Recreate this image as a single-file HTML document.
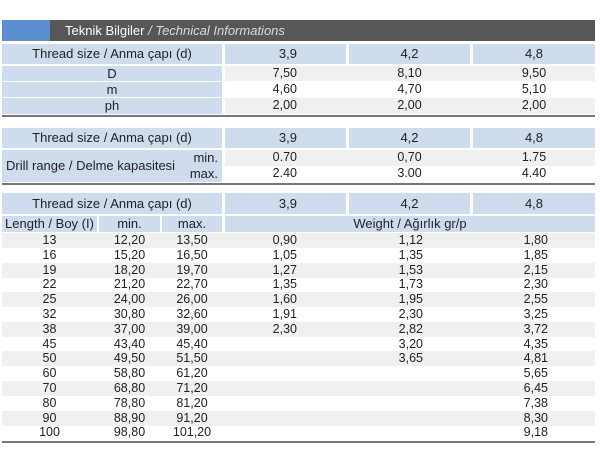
<!DOCTYPE html>
<html><head><meta charset="utf-8"><style>
*{margin:0;padding:0;box-sizing:border-box}
body{width:600px;height:450px;background:#fff;position:relative;font-family:"Liberation Sans",sans-serif;font-size:12.5px;color:#222;overflow:hidden}
div{position:absolute}
.b{background:#cfdced}
.g{background:#f0f0f0}
.c{text-align:center}
.r{text-align:right}
.h{font-size:13px}
.ln{height:2px;background:#777;left:2px;width:593px}
.row{left:0;width:600px;height:15px;line-height:15px}
.row div{top:0;height:15px}
</style></head><body>
<div style="left:2px;top:20px;width:48px;height:21px;background:#5b8fd0"></div>
<div style="left:50px;top:20px;width:545px;height:21px;background:#575757;color:#fff;font-size:13px;line-height:21px;padding-left:15px">Teknik Bilgiler <span style="color:#ddd;font-style:italic">/ Technical Informations</span></div>

<!-- table 1 -->
<div class="b c h" style="left:2px;top:44px;width:220px;height:20px;line-height:20px">Thread size / Anma çapı (d)</div>
<div class="b r h" style="left:225px;top:44px;width:121px;height:20px;line-height:20px;padding-right:49px">3,9</div>
<div class="b c h" style="left:349px;top:44px;width:121px;height:20px;line-height:20px">4,2</div>
<div class="b c h" style="left:473px;top:44px;width:122px;height:20px;line-height:20px">4,8</div>

<div class="b c h" style="left:2px;top:66px;width:220px;height:15px;line-height:15px">D</div>
<div class="g" style="left:225px;top:66px;width:370px;height:15px"></div>
<div class="b c h" style="left:2px;top:82px;width:220px;height:15px;line-height:15px">m</div>
<div class="b c h" style="left:2px;top:98px;width:220px;height:16px;line-height:16px">ph</div>
<div class="g" style="left:225px;top:98px;width:370px;height:16px"></div>
<div class="row" style="top:66px"><div class="r" style="left:225px;width:72px">7,50</div><div class="c" style="left:349px;width:121px">8,10</div><div class="c" style="left:473px;width:122px">9,50</div></div>
<div class="row" style="top:82px"><div class="r" style="left:225px;width:72px">4,60</div><div class="c" style="left:349px;width:121px">4,70</div><div class="c" style="left:473px;width:122px">5,10</div></div>
<div class="row" style="top:98px"><div class="r" style="left:225px;width:72px">2,00</div><div class="c" style="left:349px;width:121px">2,00</div><div class="c" style="left:473px;width:122px">2,00</div></div>
<div class="ln" style="top:115px"></div>

<!-- table 2 -->
<div class="b c h" style="left:2px;top:128px;width:220px;height:20px;line-height:20px">Thread size / Anma çapı (d)</div>
<div class="b r h" style="left:225px;top:128px;width:121px;height:20px;line-height:20px;padding-right:49px">3,9</div>
<div class="b c h" style="left:349px;top:128px;width:121px;height:20px;line-height:20px">4,2</div>
<div class="b c h" style="left:473px;top:128px;width:122px;height:20px;line-height:20px">4,8</div>
<div class="b" style="left:2px;top:150px;width:220px;height:32px"></div>
<div class="h" style="left:6px;top:150px;height:32px;line-height:32px">Drill range / Delme kapasitesi</div>
<div class="r h" style="left:180px;top:150px;width:38px;line-height:16px">min.</div>
<div class="r h" style="left:180px;top:166px;width:38px;line-height:16px">max.</div>
<div class="g" style="left:225px;top:150px;width:370px;height:16px"></div>
<div class="row" style="top:150px"><div class="r" style="left:225px;width:72px">0.70</div><div class="c" style="left:349px;width:121px">0,70</div><div class="c" style="left:473px;width:122px">1.75</div></div>
<div class="row" style="top:166px"><div class="r" style="left:225px;width:72px">2.40</div><div class="c" style="left:349px;width:121px">3.00</div><div class="c" style="left:473px;width:122px">4.40</div></div>
<div class="ln" style="top:183px"></div>

<!-- table 3 -->
<div class="b c h" style="left:2px;top:193px;width:220px;height:21px;line-height:21px">Thread size / Anma çapı (d)</div>
<div class="b r h" style="left:225px;top:193px;width:121px;height:21px;line-height:21px;padding-right:49px">3,9</div>
<div class="b c h" style="left:349px;top:193px;width:121px;height:21px;line-height:21px">4,2</div>
<div class="b c h" style="left:473px;top:193px;width:122px;height:21px;line-height:21px">4,8</div>
<div class="b c h" style="left:2px;top:216px;width:95px;height:16px;line-height:16px">Length / Boy (I)</div>
<div class="b c h" style="left:99px;top:216px;width:61px;height:16px;line-height:16px">min.</div>
<div class="b c h" style="left:162px;top:216px;width:60px;height:16px;line-height:16px">max.</div>
<div class="b c h" style="left:225px;top:216px;width:370px;height:16px;line-height:16px">Weight / Ağırlık gr/p</div>

<div class="g" style="left:2px;top:233px;width:593px;height:15px"></div>
<div class="g" style="left:2px;top:262.6px;width:593px;height:15px"></div>
<div class="g" style="left:2px;top:292.2px;width:593px;height:15px"></div>
<div class="g" style="left:2px;top:321.8px;width:593px;height:15px"></div>
<div class="g" style="left:2px;top:351.4px;width:593px;height:15px"></div>
<div class="g" style="left:2px;top:381px;width:593px;height:15px"></div>
<div class="g" style="left:2px;top:410.6px;width:593px;height:15px"></div>

<div class="row" style="top:233px"><div class="c" style="left:2px;width:95px">13</div><div class="c" style="left:99px;width:61px">12,20</div><div class="c" style="left:162px;width:60px">13,50</div><div class="r" style="left:225px;width:72px">0,90</div><div class="r" style="left:349px;width:74px">1,12</div><div class="r" style="left:473px;width:75px">1,80</div></div>
<div class="row" style="top:247.8px"><div class="c" style="left:2px;width:95px">16</div><div class="c" style="left:99px;width:61px">15,20</div><div class="c" style="left:162px;width:60px">16,50</div><div class="r" style="left:225px;width:72px">1,05</div><div class="r" style="left:349px;width:74px">1,35</div><div class="r" style="left:473px;width:75px">1,85</div></div>
<div class="row" style="top:262.6px"><div class="c" style="left:2px;width:95px">19</div><div class="c" style="left:99px;width:61px">18,20</div><div class="c" style="left:162px;width:60px">19,70</div><div class="r" style="left:225px;width:72px">1,27</div><div class="r" style="left:349px;width:74px">1,53</div><div class="r" style="left:473px;width:75px">2,15</div></div>
<div class="row" style="top:277.4px"><div class="c" style="left:2px;width:95px">22</div><div class="c" style="left:99px;width:61px">21,20</div><div class="c" style="left:162px;width:60px">22,70</div><div class="r" style="left:225px;width:72px">1,35</div><div class="r" style="left:349px;width:74px">1,73</div><div class="r" style="left:473px;width:75px">2,30</div></div>
<div class="row" style="top:292.2px"><div class="c" style="left:2px;width:95px">25</div><div class="c" style="left:99px;width:61px">24,00</div><div class="c" style="left:162px;width:60px">26,00</div><div class="r" style="left:225px;width:72px">1,60</div><div class="r" style="left:349px;width:74px">1,95</div><div class="r" style="left:473px;width:75px">2,55</div></div>
<div class="row" style="top:307px"><div class="c" style="left:2px;width:95px">32</div><div class="c" style="left:99px;width:61px">30,80</div><div class="c" style="left:162px;width:60px">32,60</div><div class="r" style="left:225px;width:72px">1,91</div><div class="r" style="left:349px;width:74px">2,30</div><div class="r" style="left:473px;width:75px">3,25</div></div>
<div class="row" style="top:321.8px"><div class="c" style="left:2px;width:95px">38</div><div class="c" style="left:99px;width:61px">37,00</div><div class="c" style="left:162px;width:60px">39,00</div><div class="r" style="left:225px;width:72px">2,30</div><div class="r" style="left:349px;width:74px">2,82</div><div class="r" style="left:473px;width:75px">3,72</div></div>
<div class="row" style="top:336.6px"><div class="c" style="left:2px;width:95px">45</div><div class="c" style="left:99px;width:61px">43,40</div><div class="c" style="left:162px;width:60px">45,40</div><div class="r" style="left:349px;width:74px">3,20</div><div class="r" style="left:473px;width:75px">4,35</div></div>
<div class="row" style="top:351.4px"><div class="c" style="left:2px;width:95px">50</div><div class="c" style="left:99px;width:61px">49,50</div><div class="c" style="left:162px;width:60px">51,50</div><div class="r" style="left:349px;width:74px">3,65</div><div class="r" style="left:473px;width:75px">4,81</div></div>
<div class="row" style="top:366.2px"><div class="c" style="left:2px;width:95px">60</div><div class="c" style="left:99px;width:61px">58,80</div><div class="c" style="left:162px;width:60px">61,20</div><div class="r" style="left:473px;width:75px">5,65</div></div>
<div class="row" style="top:381px"><div class="c" style="left:2px;width:95px">70</div><div class="c" style="left:99px;width:61px">68,80</div><div class="c" style="left:162px;width:60px">71,20</div><div class="r" style="left:473px;width:75px">6,45</div></div>
<div class="row" style="top:395.8px"><div class="c" style="left:2px;width:95px">80</div><div class="c" style="left:99px;width:61px">78,80</div><div class="c" style="left:162px;width:60px">81,20</div><div class="r" style="left:473px;width:75px">7,38</div></div>
<div class="row" style="top:410.6px"><div class="c" style="left:2px;width:95px">90</div><div class="c" style="left:99px;width:61px">88,90</div><div class="c" style="left:162px;width:60px">91,20</div><div class="r" style="left:473px;width:75px">8,30</div></div>
<div class="row" style="top:425.4px"><div class="c" style="left:2px;width:95px">100</div><div class="c" style="left:99px;width:61px">98,80</div><div class="c" style="left:162px;width:60px">101,20</div><div class="r" style="left:473px;width:75px">9,18</div></div>
<div class="ln" style="top:441px"></div>
</body></html>
